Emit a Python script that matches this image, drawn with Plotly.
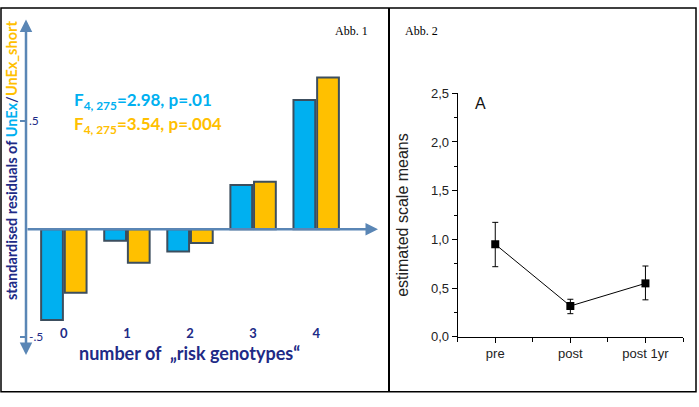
import plotly.graph_objects as go

# ---- data: left panel (Abb. 1) ----
genotype_counts = [0, 1, 2, 3, 4]
unex_resid = [-0.42, -0.054, -0.104, 0.204, 0.598]
unex_short_resid = [-0.295, -0.156, -0.064, 0.219, 0.702]
left_ytick_vals = [-0.5, 0.5]
left_ytick_text = ["-.5", ".5"]

# ---- data: right panel (Abb. 2) ----
time_points = [0, 1, 2]
time_labels = ["pre", "post", "post 1yr"]
scale_means = [0.95, 0.317, 0.549]
scale_upper = [1.175, 0.386, 0.727]
scale_lower = [0.72, 0.238, 0.38]

W, H = 699, 407
def px(x):
    return x / W
def py(y):
    return 1 - y / H

NAVY = "#202A86"
BLUE = "#00B0F0"
ORANGE = "#FFC000"
AXBLUE = "#5A86B5"

fig = go.Figure()

fig.add_trace(go.Bar(x=genotype_counts, y=unex_resid, marker=dict(color=BLUE, line=dict(color="#3C4E5E", width=2)),
                     xaxis="x", yaxis="y", name="UnEx"))
fig.add_trace(go.Bar(x=genotype_counts, y=unex_short_resid, marker=dict(color=ORANGE, line=dict(color="#3C4E5E", width=2)),
                     xaxis="x", yaxis="y", name="UnEx_short"))

fig.add_trace(go.Scatter(
    x=time_points, y=scale_means, mode="lines+markers",
    line=dict(color="black", width=1),
    marker=dict(symbol="square", size=8, color="black"),
    error_y=dict(type="data", symmetric=False,
                 array=[u - m for u, m in zip(scale_upper, scale_means)],
                 arrayminus=[m - l for m, l in zip(scale_means, scale_lower)],
                 color="black", thickness=1, width=3),
    xaxis="x2", yaxis="y2", name="scale means"))

def txt(x, y, text, font, **kw):
    d = dict(x=px(x), y=py(y), xref="paper", yref="paper", showarrow=False,
             xanchor="center", yanchor="middle", text=text, font=font)
    d.update(kw)
    return d

annotations = [
    # y axis arrow (double headed)
    dict(x=-0.6, y=0.97, ax=-0.6, ay=-0.59, xref="x", yref="y", axref="x", ayref="y",
         text="", showarrow=True, arrowhead=2, startarrowhead=2, arrowside="end+start",
         arrowwidth=2.5, arrowsize=1, startarrowsize=1, arrowcolor=AXBLUE),
    # x axis arrow
    dict(x=4.98, y=0, ax=-0.6, ay=0, xref="x", yref="y", axref="x", ayref="y",
         text="", showarrow=True, arrowhead=2, arrowwidth=2.5, arrowsize=1, arrowcolor=AXBLUE),
    txt(11, 160, "<b>standardised residuals of <span style='color:%s'>UnEx</span>/<span style='color:%s'>UnEx_short</span></b>" % (BLUE, ORANGE),
        dict(family="Lato", size=14.5, color=NAVY), textangle=-90),
    txt(72, 98, "<b>F<sub>4, 275</sub>=2.98, p=.01</b>", dict(family="Lato", size=17, color=BLUE), xanchor="left"),
    txt(72, 123, "<b>F<sub>4, 275</sub>=3.54, p=.004</b>", dict(family="Lato", size=17, color=ORANGE), xanchor="left"),
    txt(189, 359, "<b>number of  „risk genotypes“</b>", dict(family="Lato", size=18, color=NAVY)),
    txt(351, 25, "Abb. 1", dict(family="Liberation Serif", size=12, color="black")),
    txt(422, 25, "Abb. 2", dict(family="Liberation Serif", size=12, color="black")),
    txt(481, 100, "A", dict(family="Liberation Sans", size=16, color="#111")),
]

shapes = [
    dict(type="rect", xref="paper", yref="paper", x0=px(1), y0=py(1), x1=px(696), y1=py(399.5),
         line=dict(color="black", width=1.5)),
    dict(type="line", xref="paper", yref="paper", x0=px(389), y0=py(1), x1=px(389), y1=py(399.5),
         line=dict(color="black", width=2)),
]

fig.update_layout(
    width=W, height=H, margin=dict(l=0, r=0, t=0, b=0),
    paper_bgcolor="white", plot_bgcolor="white", showlegend=False,
    separators=",.",
    barmode="group", bargap=0.25, bargroupgap=0.08,
    xaxis=dict(domain=[px(26), px(378)], range=[-0.6, 4.98], anchor="free", position=py(329),
               showline=False, showgrid=False, zeroline=False, ticks="",
               tickvals=genotype_counts, ticktext=[str(c) for c in genotype_counts],
               tickfont=dict(family="Lato", size=13, color=NAVY, weight="bold")),
    yaxis=dict(domain=[py(363), py(13)], range=[-0.59, 0.97], anchor="x",
               showline=False, showgrid=False, zeroline=False,
               tickvals=left_ytick_vals, ticktext=left_ytick_text,
               ticks="outside", ticklen=5, tickwidth=1.5, tickcolor=AXBLUE,
               ticklabelposition="inside",
               tickfont=dict(family="Lato", size=12, color=NAVY)),
    xaxis2=dict(domain=[px(457.7), px(683)], range=[-0.5, 2.5], anchor="y2",
                showline=True, linecolor="black", linewidth=1, showgrid=False, zeroline=False,
                tickvals=time_points, ticktext=time_labels, ticks="outside", ticklen=5, tickcolor="black",
                minor=dict(ticks="outside", ticklen=4, tick0=0.5, dtick=1, tickcolor="black"),
                tickfont=dict(family="Liberation Sans", size=13, color="#222")),
    yaxis2=dict(domain=[py(342.5), py(89.5)], range=[0, 2.5], anchor="x2",
                showline=True, linecolor="black", linewidth=1, showgrid=False, zeroline=False,
                dtick=0.5, tick0=0, tickformat=".1f", ticks="outside", ticklen=5, tickcolor="black",
                minor=dict(ticks="outside", ticklen=3, dtick=0.25, tickcolor="black"),
                tickfont=dict(family="Liberation Sans", size=13, color="#222"),
                title=dict(text="estimated scale means", standoff=18,
                           font=dict(family="Liberation Sans", size=16, color="#222"))),
    annotations=annotations, shapes=shapes,
)

fig.write_html("out.html", config={"displayModeBar": False},
               post_script="document.body.style.margin='0';document.body.style.padding='0';")
